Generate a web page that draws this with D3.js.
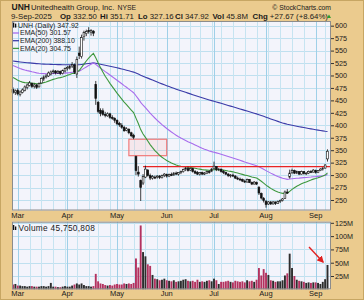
<!DOCTYPE html>
<html>
<head>
<meta charset="utf-8">
<script src="https://cdn.jsdelivr.net/npm/d3@7/dist/d3.min.js"></script>
<style>
  body { margin: 0; background: #fff; }
  svg { display: block; }
  text { font-family: "Liberation Sans", Arial, sans-serif; fill: #1a1a1a; }
</style>
</head>
<body>
<svg id="chart" width="364" height="300"></svg>
<script>
// trading calendar
const firstDay = '2025-02-27';
const lastDay = '2025-09-09';
const holidays = ['2025-04-18', '2025-05-26', '2025-06-19', '2025-07-04', '2025-09-01'];

// daily OHLC
const opens = [472,466,470,462,466,470,476,480,484,478,481,477,485,493,497,499,503,508,509,505,508,504,509,
  514,515,519,521,503,545,538,578,584,590,587,589,482,446,430,429,422,419,423,416,414,
  410,404,400,396,390,392,385,380,337,306,289,284,296,310,299,294,296,296,298,295,299,
  301,298,301,300,304,302,305,307,311,313,310,313,307,305,302,305,302,304,307,308,
  313,317,311,312,307,305,302,299,300,298,294,292,291,288,286,291,285,282,285,275,263,253,
  247,242,246,242,246,243,247,249,253,266,296,305,309,304,307,302,307,303,304,307,306,
  309,305,309,312,314,332.5];
const highs = [476,472,474,470,474,480,484,489,486,484,483,486,496,500,503,508,510,512,511,511,510,512,516,
  519,521,527,524,538,558,582,590,592,597,593,591,489,449,434,434,427,426,425,420,416,
  412,407,404,399,396,394,387,383,339,318,291,302,319,312,303,300,299,300,300,301,304,
  303,303,305,306,307,306,309,313,316,317,315,314,310,308,306,307,306,309,310,314,
  327,318,314,313,310,307,304,302,303,300,297,295,293,291,293,292,287,288,287,278,265,256,
  250,248,248,248,247,249,251,254,269,272,311,313,311,309,308,309,308,306,309,310,312,
  311,310,314,316,322,351.71];
const lows = [463,461,460,458,464,468,472,478,475,474,473,476,484,489,494,497,500,503,502,503,501,502,506,
  510,512,515,503,495,533,534,570,579,584,580,579,441,424,418,419,416,417,413,411,405,
  400,397,393,387,388,382,376,372,300,297,248,280,294,297,290,291,292,293,292,293,296,
  295,296,298,299,300,299,302,305,308,307,308,305,302,300,299,300,300,302,303,306,
  311,308,308,305,302,300,296,295,296,292,290,288,286,284,285,284,280,281,280,260,251,245,
  234.6,240,240,241,240,242,244,247,252,262,293,302,302,302,300,301,301,300,302,304,305,
  303,304,308,309,313,327.16];
const closes = [466,469,463,467,471,477,481,485,478,481,476,484,494,497,499,505,507,509,505,508,504,510,514,
  516,518,522,507,532,540,576,586,588,588,590,585,454,428,424,422,420,423,416,414,410,
  403,401,396,389,393,385,379,376,309,302,275,297,312,299,294,297,294,298,295,299,302,
  298,301,300,304,302,305,307,311,314,309,313,307,304,302,305,302,304,307,306,312,
  318,311,312,307,305,302,299,300,298,294,292,291,288,286,291,285,282,286,282,264,254,249,
  241,246,242,246,243,247,249,252,266,264,304,309,304,307,302,307,303,304,307,306,310,
  305,309,312,314,320.25,347.92];
// volume, millions of shares
const volumes = [9,10,7,7,6,6,5,6,6,5,5,5,6,6,5,6,12,5,5,4,4,5,6,
  5,5,7,9,11,9,11,8,6,6,5,6,29,15,11,10,8,7,8,7,9,
  10,9,9,11,10,11,10,12,58,41,120,70,62,47,44,27,20,19,17,18,20,
  17,16,15,17,14,15,16,18,19,16,15,16,14,18,14,15,14,16,17,15,
  20,17,10,14,14,15,16,14,13,16,15,14,15,13,17,15,16,14,18,40,26,38,
  31,27,17,16,14,15,15,17,26,30,67,40,25,18,16,15,14,12,13,12,13,
  13,12,10,14,19,45.75];

const priceTicks = [250,275,300,325,350,375,400,425,450,475,500,525,550,575,600];
const volumeTicks = [25,50,75,100,125];
const monthLabels = ['Mar','Apr','May','Jun','Jul','Aug','Sep'];

// moving averages: period, starting value, colour, legend text
const emaLines = [
  { period: 200, start: 529, color: '#3b3ba8', label: 'EMA(200) 388.10' },
  { period: 50, start: 520, color: '#a86cec', label: 'EMA(50) 301.57' },
  { period: 20, start: 496, color: '#3e983e', label: 'EMA(20) 304.75' }
];
const legendOrder = ['EMA(50) 301.57', 'EMA(200) 388.10', 'EMA(20) 304.75'];

// annotations
const gapBox = { from: '2025-05-08', to: '2025-06-02', low: 339, high: 372 };
const resistance = { from: '2025-05-16', price: 317 };

// ---------- layout ----------
const W = 364, H = 300;
const left = 12, right = 331;
const priceTop = 21, priceBottom = 210.5;
const volTop = 221.7, volBottom = 289.3;

const svg = d3.select('#chart');

// build trading days
const days = [];
for (let d = new Date(firstDay + 'T00:00:00Z'); d <= new Date(lastDay + 'T00:00:00Z'); d.setUTCDate(d.getUTCDate() + 1)) {
  const s = d.toISOString().slice(0, 10);
  const wd = d.getUTCDay();
  if (wd === 0 || wd === 6 || holidays.includes(s)) continue;
  days.push(s);
}
const bars = days.map((date, i) => ({
  date, i, o: opens[i], h: highs[i], l: lows[i], c: closes[i], v: volumes[i],
  up: i > 0 ? closes[i] >= closes[i - 1] : false
}));

const x = d3.scalePoint().domain(days).range([13, 327.5]);
const y = d3.scaleLinear().domain([228.9, 609.4]).range([priceBottom, priceTop]);
const yv = d3.scaleLinear().domain([0, 127.1]).range([volBottom, volTop]);

// first trading day of each week / month
const weekStarts = days.filter((d, i) => i > 0 && new Date(d).getUTCDay() < new Date(days[i - 1]).getUTCDay());
const monthStarts = days.filter((d, i) => i > 0 && d.slice(5, 7) !== days[i - 1].slice(5, 7));

// background
svg.append('rect').attr('width', W).attr('height', H).attr('fill', '#ebcb8e');
svg.append('rect').attr('x', 0.5).attr('y', 0.5).attr('width', W - 1).attr('height', H - 1)
  .attr('fill', 'none').attr('stroke', '#c7a663');

function panel(top, bottom, yScale, ticks) {
  const g = svg.append('g');
  g.append('rect').attr('x', left).attr('y', top).attr('width', right - left).attr('height', bottom - top)
    .attr('fill', '#f3f4fb');
  g.selectAll('.hg').data(ticks).enter().append('line')
    .attr('x1', left).attr('x2', right)
    .attr('y1', d => Math.round(yScale(d)) + 0.5).attr('y2', d => Math.round(yScale(d)) + 0.5)
    .attr('stroke', '#bfe0ef').attr('stroke-width', 1);
  g.selectAll('.wg').data(weekStarts).enter().append('line')
    .attr('x1', d => Math.round(x(d)) + 0.5).attr('x2', d => Math.round(x(d)) + 0.5)
    .attr('y1', top).attr('y2', bottom)
    .attr('stroke', '#c6e4f1').attr('stroke-width', 1);
  g.selectAll('.mg').data(monthStarts).enter().append('line')
    .attr('x1', d => Math.round(x(d)) + 0.5).attr('x2', d => Math.round(x(d)) + 0.5)
    .attr('y1', top).attr('y2', bottom)
    .attr('stroke', '#9fd0e8').attr('stroke-width', 1);
  return g;
}

panel(priceTop, priceBottom, y, priceTicks);
panel(volTop, volBottom, yv, volumeTicks);

// gap box and resistance line
svg.append('rect')
  .attr('x', x(gapBox.from)).attr('y', y(gapBox.high))
  .attr('width', x(gapBox.to) - x(gapBox.from)).attr('height', y(gapBox.low) - y(gapBox.high))
  .attr('fill', 'rgba(255,170,170,0.18)').attr('stroke', '#f07a7a').attr('stroke-width', 1.2);

// EMAs
emaLines.forEach(e => {
  const k = 2 / (e.period + 1);
  let prev = e.start;
  const vals = closes.map((c, i) => (prev = i === 0 ? e.start : prev + k * (c - prev)));
  svg.append('path')
    .datum(vals)
    .attr('fill', 'none').attr('stroke', e.color).attr('stroke-width', 1.1)
    .attr('d', d3.line().x((d, i) => x(days[i])).y(d => y(d)));
});

svg.append('line')
  .attr('x1', x(resistance.from)).attr('x2', right)
  .attr('y1', y(resistance.price)).attr('y2', y(resistance.price))
  .attr('stroke', '#e82424').attr('stroke-width', 1.2);

// candlesticks
const candles = svg.append('g');
candles.selectAll('.wick').data(bars).enter().append('line')
  .attr('x1', d => x(d.date)).attr('x2', d => x(d.date))
  .attr('y1', d => y(d.h)).attr('y2', d => y(d.l))
  .attr('stroke', '#111').attr('stroke-width', 0.8);
candles.selectAll('.body').data(bars).enter().append('rect')
  .attr('x', d => x(d.date) - 0.9).attr('width', 1.8)
  .attr('y', d => y(Math.max(d.o, d.c)))
  .attr('height', d => Math.max(0.8, Math.abs(y(d.o) - y(d.c))))
  .attr('fill', d => d.c < d.o ? '#111' : '#fff')
  .attr('stroke', '#111').attr('stroke-width', 0.6);

// volume bars
svg.append('g').selectAll('rect').data(bars).enter().append('rect')
  .attr('x', d => x(d.date) - 0.95).attr('width', 1.9)
  .attr('y', d => yv(d.v)).attr('height', d => yv(0) - yv(d.v))
  .attr('fill', d => d.up ? '#2d2d2d' : '#b3325f');

// red arrow to the last volume bar
const lastBar = bars[bars.length - 1];
svg.append('defs').append('marker')
  .attr('id', 'arrow').attr('viewBox', '0 0 10 10').attr('refX', 8).attr('refY', 5)
  .attr('markerWidth', 5).attr('markerHeight', 5).attr('orient', 'auto')
  .append('path').attr('d', 'M0,0 L10,5 L0,10 z').attr('fill', '#e02020');
svg.append('line')
  .attr('x1', x(lastBar.date) - 18.5).attr('y1', yv(lastBar.v) - 18)
  .attr('x2', x(lastBar.date) - 4.5).attr('y2', yv(lastBar.v) - 3)
  .attr('stroke', '#e02020').attr('stroke-width', 1.4).attr('marker-end', 'url(#arrow)');

// frames
[[priceTop, priceBottom], [volTop, volBottom]].forEach(([t, b]) => {
  svg.append('rect').attr('x', left + 0.5).attr('y', t + 0.5)
    .attr('width', right - left - 1).attr('height', b - t - 1)
    .attr('fill', 'none').attr('stroke', '#8c8c8c');
});

// right axes
const priceAxis = d3.axisRight(y).tickValues(priceTicks).tickSize(3).tickPadding(1);
svg.append('g').attr('transform', `translate(${right},0)`).call(priceAxis)
  .call(g => g.select('.domain').remove())
  .call(g => g.selectAll('text').style('font-size', '7.2px').attr('fill', '#1a1a1a'))
  .call(g => g.selectAll('line').attr('stroke', '#333'));

const volAxis = d3.axisRight(yv).tickValues(volumeTicks).tickFormat(d => d + 'M').tickSize(3).tickPadding(1);
svg.append('g').attr('transform', `translate(${right},0)`).call(volAxis)
  .call(g => g.select('.domain').remove())
  .call(g => g.selectAll('text').style('font-size', '7.2px').attr('fill', '#1a1a1a'))
  .call(g => g.selectAll('line').attr('stroke', '#333'));

// month labels between panels and at the bottom
[218, 296].forEach(base => {
  svg.append('g').selectAll('text').data(monthStarts.slice(-monthLabels.length)).enter().append('text')
    .attr('x', d => x(d)).attr('y', base)
    .attr('text-anchor', 'middle').style('font-size', '7.5px')
    .text((d, i) => monthLabels[i]);
});

// header
const header = svg.append('g');
header.append('text').attr('x', 11.5).attr('y', 10).style('font-size', '8.5px').style('font-weight', 'bold').text('UNH');
header.append('text').attr('x', 31).attr('y', 10).style('font-size', '7.7px').text('Unitedhealth Group, Inc.');
header.append('text').attr('x', 117.5).attr('y', 10).style('font-size', '6.8px').text('NYSE');
header.append('text').attr('x', 331).attr('y', 9.5).attr('text-anchor', 'end').style('font-size', '6.8px')
  .attr('fill', '#333').text('\u00a9 StockCharts.com');

const quote = [
  ['', '9-Sep-2025', 11], ['Op', '332.50', 60], ['Hi', '351.71', 100], ['Lo', '327.16', 138],
  ['Cl', '347.92', 175], ['Vol', '45.8M', 212.5], ['Chg', '+27.67 (+8.64%)', 252.5]
];
quote.forEach(([lab, val, px]) => {
  const t = header.append('text').attr('x', px).attr('y', 18.6).style('font-size', '7.8px');
  if (lab) t.append('tspan').style('font-weight', 'bold').text(lab + ' ');
  t.append('tspan').text(val);
});
header.append('path').attr('d', 'M327,18 L331,18 L329,14.6 Z').attr('fill', '#2e9a2e');

// price legend
const legend = svg.append('g');
legend.append('rect').attr('x', 13).attr('y', 22.6).attr('width', 1.3).attr('height', 5).attr('fill', '#111');
legend.append('rect').attr('x', 15).attr('y', 23.6).attr('width', 1.3).attr('height', 4).attr('fill', '#111');
legend.append('text').attr('x', 18).attr('y', 27.6).style('font-size', '7px').text('UNH (Daily) 347.92');
legendOrder.forEach((lab, i) => {
  const e = emaLines.find(d => d.label === lab);
  const yy = 35.3 + i * 7.7;
  legend.append('line').attr('x1', 13).attr('x2', 19).attr('y1', yy - 2.3).attr('y2', yy - 2.3)
    .attr('stroke', e.color).attr('stroke-width', 1.3);
  legend.append('text').attr('x', 20).attr('y', yy).style('font-size', '7px').attr('fill', e.color).text(lab);
});

// volume legend
legend.append('rect').attr('x', 13).attr('y', 225).attr('width', 1.3).attr('height', 5).attr('fill', '#111');
legend.append('rect').attr('x', 15).attr('y', 226.5).attr('width', 1.3).attr('height', 3.5).attr('fill', '#111');
legend.append('text').attr('x', 18.5).attr('y', 230.5).style('font-size', '8.3px').style('letter-spacing', '0.3px')
  .text('Volume 45,750,808');
</script>
</body>
</html>
